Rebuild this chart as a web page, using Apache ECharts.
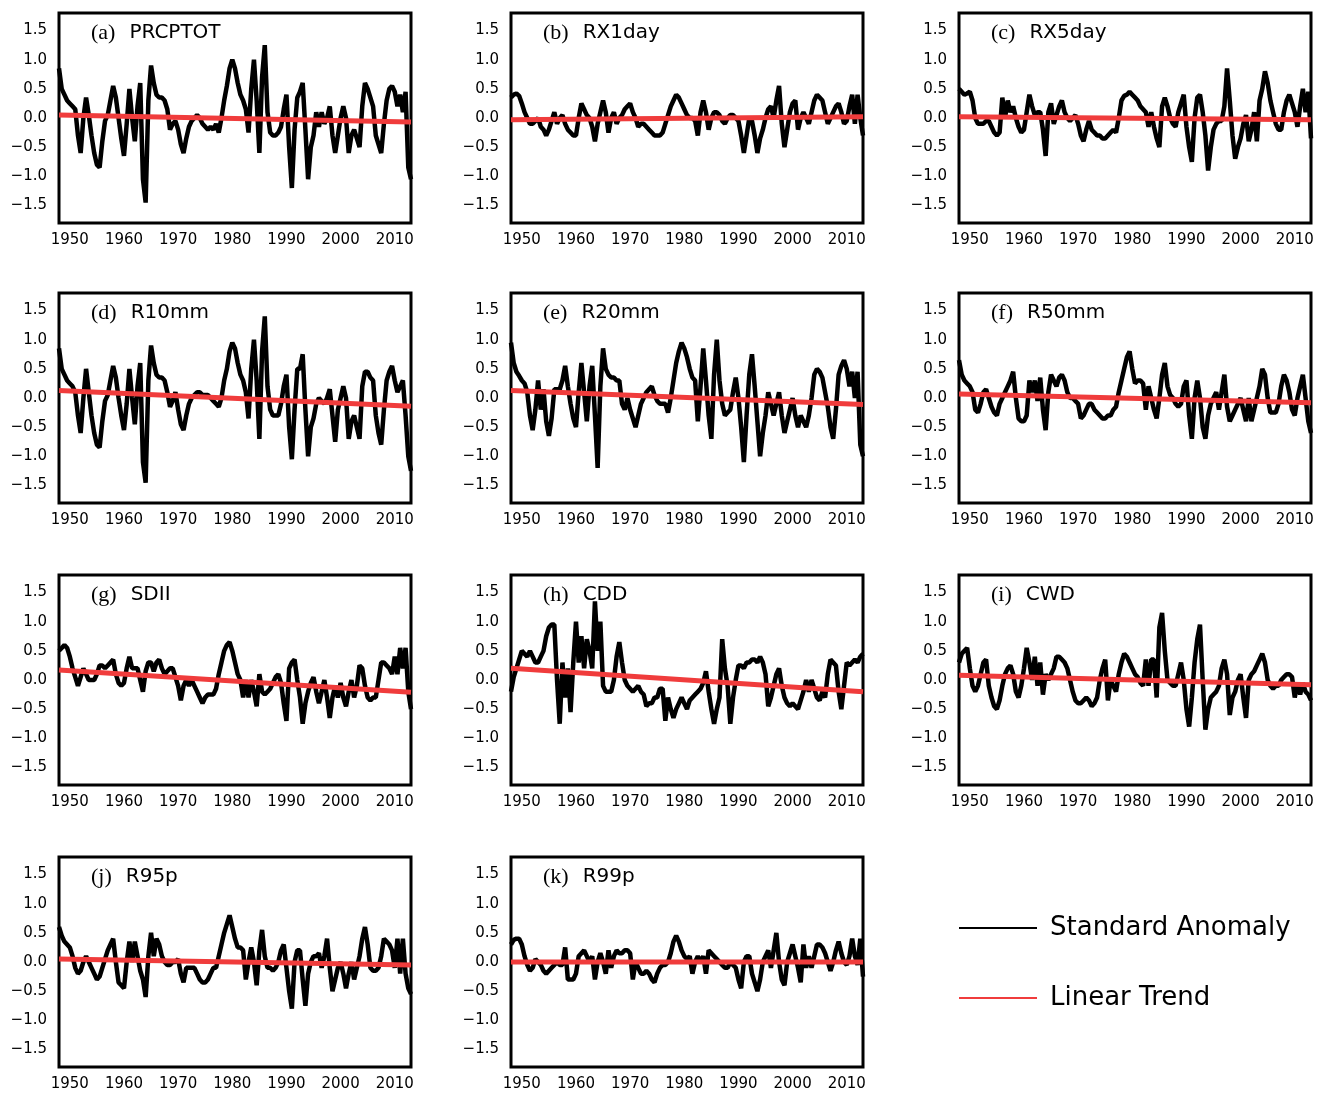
<!DOCTYPE html>
<html>
<head>
<meta charset="utf-8">
<title>Standard anomalies of precipitation indices</title>
<script src="https://cdn.jsdelivr.net/npm/echarts@6/dist/echarts.min.js"></script>
<style>
  html, body { margin: 0; background: #fff; }
  #chart { width: 1336px; height: 1102px; }
</style>
</head>
<body>
<div id="chart"></div>
<script>
// half-year steps, 1948.0 .. 2013.0
const firstYear = 1948;
const lastYear = 2013;
const years = Array.from({ length: 131 }, (_, i) => firstYear + i * 0.5);

const panelTags = ['(a)', '(b)', '(c)', '(d)', '(e)', '(f)', '(g)', '(h)', '(i)', '(j)', '(k)'];
const panelNames = ['PRCPTOT', 'RX1day', 'RX5day', 'R10mm', 'R20mm', 'R50mm', 'SDII', 'CDD', 'CWD', 'R95p', 'R99p'];

const prcptot = [
  0.85, 0.5, 0.4, 0.3, 0.25, 0.2, 0.15, -0.3, -0.6, 0.0,
  0.35, 0.05, -0.3, -0.6, -0.8, -0.85, -0.4, -0.05, 0.05, 0.3,
  0.55, 0.35, 0.0, -0.35, -0.65, -0.1, 0.5, 0.0, -0.4, 0.2,
  0.6, -1.05, -1.45, 0.3, 0.9, 0.6, 0.4, 0.35, 0.35, 0.3,
  0.15, -0.2, -0.1, -0.05, -0.2, -0.45, -0.6, -0.35, -0.15, -0.05,
  0.0, 0.05, 0.0, -0.1, -0.15, -0.2, -0.15, -0.2, -0.1, -0.25,
  0.0, 0.3, 0.55, 0.85, 1.0, 0.85, 0.6, 0.4, 0.3, 0.15,
  -0.25, 0.5, 1.0, 0.3, -0.6, 0.7, 1.25, 0.1, -0.25, -0.3,
  -0.3, -0.25, -0.15, 0.15, 0.4, -0.5, -1.2, -0.2, 0.35, 0.45,
  0.6, -0.2, -1.05, -0.5, -0.3, 0.1, -0.15, 0.1, -0.1, 0.0,
  0.2, -0.3, -0.6, -0.3, 0.0, 0.2, 0.0, -0.6, -0.3, -0.2,
  -0.35, -0.5, 0.2, 0.6, 0.5, 0.35, 0.2, -0.3, -0.45, -0.6,
  -0.1, 0.3, 0.5, 0.55, 0.45, 0.2, 0.4, 0.1, 0.45, -0.85,
  -1.05
];
const rx1day = [
  0.35, 0.4, 0.42, 0.38, 0.25, 0.1, 0.0, -0.1, -0.1, -0.05,
  0.0, -0.15, -0.2, -0.3, -0.2, -0.05, 0.1, -0.1, 0.0, 0.05,
  -0.1, -0.2, -0.25, -0.3, -0.3, 0.0, 0.25, 0.15, 0.05, 0.0,
  -0.15, -0.4, -0.1, 0.1, 0.3, 0.1, -0.25, 0.0, 0.1, -0.1,
  0.0, 0.05, 0.15, 0.2, 0.25, 0.1, 0.0, -0.15, -0.1, -0.1,
  -0.15, -0.2, -0.25, -0.3, -0.3, -0.3, -0.25, -0.1, 0.05, 0.2,
  0.3, 0.4, 0.35, 0.25, 0.15, 0.05, 0.0, 0.0, -0.05, -0.3,
  0.1, 0.3, 0.1, -0.2, 0.0, 0.1, 0.1, 0.05, -0.05, -0.1,
  0.0, 0.05, 0.05, 0.0, -0.05, -0.3, -0.6, -0.3, 0.0, -0.05,
  -0.3, -0.6, -0.35, -0.2, 0.0, 0.15, 0.2, 0.0, 0.3, 0.55,
  -0.1, -0.5, -0.2, 0.1, 0.25, 0.3, -0.2, 0.0, 0.1, 0.0,
  -0.1, 0.1, 0.3, 0.4, 0.35, 0.3, 0.1, -0.1, 0.0, 0.1,
  0.2, 0.25, 0.1, -0.1, -0.05, 0.2, 0.4, -0.1, 0.4, 0.0,
  -0.3
];
const rx5day = [
  0.5, 0.45, 0.4, 0.42, 0.45, 0.3, 0.0, -0.1, -0.1, -0.1,
  -0.05, -0.05, -0.15, -0.25, -0.3, -0.25, 0.35, 0.0, 0.3, 0.1,
  0.2, 0.0, -0.15, -0.25, -0.2, 0.1, 0.4, 0.2, 0.05, 0.1,
  0.1, -0.2, -0.65, 0.1, 0.25, -0.1, 0.05, 0.2, 0.3, 0.1,
  0.0, -0.05, 0.0, 0.05, -0.1, -0.3, -0.4, -0.2, -0.05, -0.2,
  -0.25, -0.3, -0.3, -0.35, -0.35, -0.3, -0.25, -0.2, -0.25, 0.0,
  0.3, 0.38, 0.4, 0.45, 0.4, 0.35, 0.3, 0.2, 0.15, 0.1,
  -0.15, 0.1, -0.15, -0.35, -0.5, 0.2, 0.35, 0.2, 0.0, -0.1,
  -0.15, 0.1, 0.25, 0.4, -0.15, -0.5, -0.75, 0.0, 0.35, 0.4,
  0.1, -0.3, -0.9, -0.5, -0.2, -0.1, -0.05, -0.05, 0.2, 0.85,
  0.3, -0.3, -0.7, -0.5, -0.35, -0.1, 0.05, -0.4, -0.2, 0.1,
  -0.4, 0.3, 0.5, 0.8, 0.6, 0.3, 0.1, -0.1, -0.2, -0.2,
  0.1, 0.3, 0.4, 0.25, 0.1, -0.15, 0.2, 0.5, 0.1, 0.45,
  -0.35
];
const r10mm = [
  0.85, 0.5, 0.4, 0.3, 0.25, 0.2, 0.1, -0.3, -0.6, 0.0,
  0.5, 0.1, -0.3, -0.6, -0.8, -0.85, -0.4, -0.05, 0.05, 0.3,
  0.55, 0.35, 0.0, -0.3, -0.55, -0.1, 0.5, 0.0, -0.45, 0.2,
  0.6, -1.1, -1.45, 0.3, 0.9, 0.6, 0.4, 0.35, 0.35, 0.3,
  0.1, -0.15, -0.05, 0.1, -0.2, -0.45, -0.55, -0.3, -0.1, 0.0,
  0.05, 0.1, 0.1, 0.05, 0.05, 0.05, 0.0, -0.05, -0.1, -0.15,
  0.0, 0.3, 0.5, 0.8, 0.95, 0.85, 0.6, 0.4, 0.3, 0.1,
  -0.35, 0.5, 1.0, 0.3, -0.7, 0.8, 1.4, 0.2, -0.2, -0.3,
  -0.3, -0.3, -0.1, 0.2, 0.4, -0.5, -1.05, -0.2, 0.5, 0.5,
  0.75, -0.2, -1.0, -0.5, -0.35, -0.1, 0.0, -0.05, -0.1, 0.0,
  0.15, -0.3, -0.75, -0.2, 0.0, 0.2, 0.0, -0.7, -0.4, -0.3,
  -0.5, -0.7, 0.2, 0.45, 0.45, 0.35, 0.3, -0.3, -0.6, -0.8,
  -0.2, 0.3, 0.45, 0.55, 0.3, 0.1, 0.2, 0.3, -0.3, -1.0,
  -1.25
];
const r20mm = [
  0.95, 0.6, 0.45, 0.38, 0.3, 0.25, 0.1, -0.3, -0.55, -0.2,
  0.3, -0.2, 0.15, -0.4, -0.65, -0.35, 0.15, 0.15, 0.15, 0.3,
  0.55, 0.2, -0.1, -0.35, -0.5, 0.1, 0.6, 0.1, -0.4, 0.2,
  0.55, -0.3, -1.2, 0.2, 0.85, 0.5, 0.4, 0.35, 0.35, 0.3,
  0.3, -0.1, -0.2, 0.0, -0.2, -0.35, -0.5, -0.3, -0.1, 0.0,
  0.1, 0.15, 0.2, 0.05, -0.05, -0.1, -0.1, -0.1, -0.25, 0.0,
  0.3, 0.6, 0.8, 0.95, 0.85, 0.7, 0.5, 0.35, 0.3, -0.4,
  0.2, 0.85, 0.3, -0.3, -0.7, 0.4, 1.0, 0.3, -0.1, -0.3,
  -0.25, -0.2, 0.1, 0.35, 0.0, -0.5, -1.1, -0.3, 0.4, 0.75,
  0.2, -0.4, -1.0, -0.6, -0.3, 0.1, -0.1, -0.3, -0.1, 0.1,
  -0.3, -0.6, -0.4, -0.2, 0.0, -0.3, -0.5, -0.3, -0.4, -0.5,
  -0.3, 0.0, 0.4, 0.5, 0.45, 0.35, 0.1, -0.15, -0.5, -0.7,
  -0.2, 0.4, 0.55, 0.65, 0.5, 0.2, 0.45, 0.0, 0.45, -0.8,
  -1.0
];
const r50mm = [
  0.65, 0.4, 0.3, 0.25, 0.2, 0.1, -0.2, -0.25, -0.1, 0.1,
  0.15, 0.0, -0.15, -0.25, -0.3, -0.1, 0.0, 0.1, 0.2, 0.3,
  0.45, 0.0, -0.35, -0.4, -0.4, -0.3, 0.3, 0.1, 0.3, -0.05,
  0.35, -0.2, -0.55, 0.1, 0.4, 0.3, 0.2, 0.35, 0.4, 0.3,
  0.1, 0.0, 0.0, -0.05, -0.1, -0.35, -0.3, -0.2, -0.1, -0.1,
  -0.2, -0.25, -0.3, -0.35, -0.35, -0.3, -0.3, -0.2, -0.15, 0.1,
  0.3, 0.5, 0.7, 0.8, 0.5, 0.25, 0.3, 0.3, 0.25, -0.2,
  0.2, 0.0, -0.2, -0.35, 0.0, 0.4, 0.6, 0.2, 0.05, 0.0,
  -0.1, -0.15, -0.1, 0.2, 0.3, -0.3, -0.7, 0.0, 0.3, 0.0,
  -0.5, -0.7, -0.3, -0.1, 0.0, 0.1, -0.2, 0.1, 0.4, -0.15,
  -0.4, -0.3, -0.2, -0.1, 0.0, -0.2, -0.4, 0.0, -0.4, -0.2,
  0.0, 0.2, 0.5, 0.4, 0.0, -0.25, -0.25, -0.25, -0.1, 0.2,
  0.4, 0.3, 0.1, -0.2, -0.3, 0.0, 0.2, 0.4, 0.0, -0.4,
  -0.6
];
const sdii = [
  0.5, 0.55, 0.6, 0.55, 0.4, 0.2, 0.05, -0.1, 0.05, 0.2,
  0.1, 0.0, 0.0, 0.0, 0.1, 0.25, 0.25, 0.2, 0.25, 0.3,
  0.35, 0.1, -0.05, -0.1, -0.05, 0.2, 0.4, 0.2, 0.2, 0.2,
  0.0, -0.2, 0.15, 0.3, 0.3, 0.15, 0.3, 0.35, 0.2, 0.1,
  0.15, 0.2, 0.2, 0.05, -0.1, -0.35, -0.1, 0.0, -0.1, 0.0,
  -0.1, -0.2, -0.3, -0.4, -0.3, -0.25, -0.25, -0.25, -0.15, 0.1,
  0.3, 0.5, 0.6, 0.65, 0.5, 0.3, 0.1, 0.0, -0.3, 0.0,
  -0.3, 0.0, -0.2, -0.45, 0.1, -0.2, -0.25, -0.2, -0.15, -0.05,
  0.05, 0.1, -0.05, -0.4, -0.7, 0.2, 0.3, 0.35, 0.0, -0.3,
  -0.75, -0.4, -0.2, -0.05, 0.05, -0.2, -0.4, -0.2, 0.0, -0.3,
  -0.65, -0.3, -0.1, -0.3, -0.05, -0.3, -0.45, -0.2, 0.0, -0.3,
  -0.1, 0.25, 0.2, -0.1, -0.3, -0.35, -0.3, -0.3, 0.0, 0.3,
  0.3, 0.25, 0.2, 0.1, 0.4, 0.1, 0.55, 0.2, 0.55, -0.2,
  -0.5
];
const cdd = [
  -0.2, 0.05, 0.2, 0.35, 0.5, 0.45, 0.4, 0.5, 0.4, 0.3,
  0.3, 0.4, 0.5, 0.75, 0.9, 0.95, 0.95, 0.0, -0.75, 0.3,
  -0.3, 0.2, -0.55, 0.3, 1.0, 0.3, 0.75, 0.2, 0.7, 0.5,
  0.2, 1.35, 0.5, 1.0, -0.1, -0.2, -0.2, -0.2, 0.0, 0.4,
  0.65, 0.3, 0.0, -0.1, -0.15, -0.2, -0.15, -0.1, -0.2, -0.25,
  -0.45, -0.4, -0.4, -0.3, -0.3, -0.15, -0.15, -0.7, -0.3, -0.5,
  -0.65, -0.5, -0.4, -0.3, -0.4, -0.5, -0.35, -0.3, -0.25, -0.2,
  -0.15, -0.05, 0.15, -0.2, -0.5, -0.75, -0.5, -0.3, 0.7, 0.2,
  -0.1, -0.75, -0.3, 0.0, 0.25, 0.25, 0.2, 0.3, 0.3, 0.35,
  0.35, 0.3, 0.4, 0.3, 0.1, -0.45, -0.3, -0.1, 0.1, 0.2,
  -0.1, -0.3, -0.4, -0.45, -0.4, -0.45, -0.5, -0.35, -0.2, 0.0,
  -0.2, 0.0, -0.15, -0.3, -0.35, -0.2, -0.3, 0.1, 0.35, 0.3,
  0.25, -0.2, -0.5, -0.1, 0.3, 0.25, 0.3, 0.35, 0.3, 0.4,
  0.45
];
const cwd = [
  0.3, 0.45, 0.5, 0.55, 0.2, -0.1, -0.2, -0.1, 0.1, 0.3,
  0.35, -0.1, -0.3, -0.45, -0.5, -0.35, -0.1, 0.1, 0.2, 0.25,
  0.1, -0.2, -0.3, -0.1, 0.2, 0.55, 0.3, 0.0, 0.4, -0.1,
  0.3, -0.25, 0.1, 0.0, 0.1, 0.2, 0.4, 0.4, 0.35, 0.3,
  0.2, 0.0, -0.2, -0.35, -0.4, -0.4, -0.35, -0.3, -0.35, -0.45,
  -0.4, -0.3, 0.0, 0.2, 0.35, -0.35, 0.0, -0.1, -0.2, 0.1,
  0.3, 0.45, 0.4, 0.3, 0.2, 0.1, 0.05, -0.05, -0.1, 0.35,
  -0.1, 0.35, 0.35, -0.3, 0.9, 1.15, 0.5, 0.0, -0.05, -0.1,
  -0.1, 0.1, 0.3, 0.0, -0.5, -0.8, -0.3, 0.3, 0.7, 0.95,
  0.0, -0.85, -0.5, -0.3, -0.25, -0.2, -0.1, 0.2, 0.35, 0.1,
  -0.6, -0.3, -0.2, 0.0, 0.1, -0.3, -0.65, 0.0, 0.1, 0.15,
  0.25, 0.35, 0.45, 0.3, 0.0, -0.1, -0.15, -0.1, -0.1, 0.0,
  0.05, 0.1, 0.1, 0.05, -0.3, -0.05, -0.25, -0.05, -0.2, -0.25,
  -0.35
];
const r95p = [
  0.6, 0.45, 0.35, 0.3, 0.25, 0.1, -0.1, -0.2, -0.15, 0.0,
  0.1, 0.0, -0.1, -0.2, -0.3, -0.25, -0.1, 0.05, 0.2, 0.3,
  0.4, 0.0, -0.35, -0.4, -0.45, 0.0, 0.35, 0.0, 0.35, 0.1,
  -0.15, -0.3, -0.6, 0.1, 0.5, 0.1, 0.4, 0.3, 0.1, 0.0,
  -0.05, -0.05, 0.0, 0.0, 0.05, -0.2, -0.35, -0.1, -0.1, -0.1,
  -0.1, -0.2, -0.3, -0.35, -0.35, -0.3, -0.2, -0.1, -0.1, 0.1,
  0.3, 0.5, 0.65, 0.8, 0.6, 0.4, 0.25, 0.25, 0.2, -0.3,
  0.0, 0.25, 0.0, -0.4, 0.2, 0.55, 0.1, -0.1, -0.1, -0.15,
  -0.1, 0.0, 0.2, 0.3, -0.1, -0.5, -0.8, 0.0, 0.2, 0.2,
  -0.3, -0.75, -0.2, 0.0, 0.1, 0.1, 0.15, -0.1, 0.1, 0.4,
  -0.1, -0.5, -0.3, -0.1, 0.0, -0.2, -0.45, -0.2, 0.0, -0.3,
  -0.1, 0.1, 0.4, 0.6, 0.3, -0.1, -0.15, -0.15, -0.1, 0.1,
  0.4, 0.35, 0.3, 0.2, -0.1, 0.4, -0.2, 0.4, -0.2, -0.45,
  -0.55
];
const r99p = [
  0.3, 0.38, 0.4, 0.4, 0.3, 0.1, -0.05, -0.15, -0.1, 0.05,
  0.0, -0.05, -0.15, -0.2, -0.15, -0.1, -0.05, 0.0, -0.05, -0.05,
  0.25, -0.3, -0.3, -0.3, -0.2, 0.1, 0.15, 0.2, 0.1, 0.0,
  0.1, -0.3, 0.0, 0.15, 0.0, -0.2, 0.2, -0.1, 0.1, 0.2,
  0.15, 0.15, 0.2, 0.2, 0.15, -0.3, 0.0, -0.1, -0.2, -0.2,
  -0.15, -0.2, -0.3, -0.35, -0.2, -0.1, -0.05, -0.05, 0.0, 0.15,
  0.35, 0.45, 0.35, 0.2, 0.1, 0.05, 0.1, -0.2, 0.0, 0.1,
  0.0, 0.1, -0.2, 0.2, 0.15, 0.1, 0.05, 0.0, -0.05, -0.1,
  -0.1, 0.0, -0.05, -0.1, -0.3, -0.45, 0.0, 0.1, 0.1, -0.2,
  -0.35, -0.5, -0.3, 0.0, 0.1, 0.2, -0.1, 0.2, 0.5, 0.0,
  -0.3, -0.4, 0.0, 0.15, 0.3, 0.1, -0.1, -0.35, 0.3, -0.1,
  0.1, -0.1, 0.1, 0.3, 0.3, 0.25, 0.15, 0.0, -0.15, 0.0,
  0.2, 0.35, 0.15, 0.0, -0.05, 0.1, 0.4, 0.1, -0.05, 0.4,
  -0.25
];

// linear trend value at 1948 and at 2013, per panel
const trendStart = [0.05, -0.03, 0.02, 0.13, 0.13, 0.07, 0.17, 0.2, 0.08, 0.05, 0.0];
const trendEnd = [-0.07, 0.02, -0.03, -0.14, -0.11, -0.08, -0.21, -0.2, -0.08, -0.05, 0.0];

const yearTicks = [1950, 1960, 1970, 1980, 1990, 2000, 2010];
const valueTicks = [-1.5, -1.0, -0.5, 0.0, 0.5, 1.0, 1.5];

const anomalies = [prcptot, rx1day, rx5day, r10mm, r20mm, r50mm, sdii, cdd, cwd, r95p, r99p];

const colLeft = [59, 511, 959];
const rowTop = [13, 293, 575, 857];
const plotW = 352;
const plotH = 210;
const sans = 'DejaVu Sans, Liberation Sans, sans-serif';
const red = '#f03c3c';

const grids = [], xAxes = [], yAxes = [], series = [], titles = [];

anomalies.forEach((vals, i) => {
  if (vals.length !== years.length) console.warn(panelNames[i], vals.length);
  const left = colLeft[i % 3];
  const top = rowTop[Math.floor(i / 3)];
  grids.push({ left, top, width: plotW, height: plotH, show: true, borderColor: '#000', borderWidth: 3, backgroundColor: '#fff' });
  xAxes.push({
    type: 'value', gridIndex: i, min: firstYear, max: lastYear,
    axisLine: { show: false }, axisTick: { show: false }, splitLine: { show: false },
    axisLabel: {
      customValues: yearTicks, color: '#000', fontSize: 15, fontFamily: sans, margin: 10,
      formatter: v => String(v)
    }
  });
  yAxes.push({
    type: 'value', gridIndex: i, min: -1.8, max: 1.8,
    axisLine: { show: false }, axisTick: { show: false }, splitLine: { show: false },
    axisLabel: {
      customValues: valueTicks, color: '#000', fontSize: 15, fontFamily: sans, margin: 12,
      formatter: v => v.toFixed(1).replace('-', '\u2212')
    }
  });
  series.push({
    type: 'line', name: 'Standard Anomaly', xAxisIndex: i, yAxisIndex: i,
    data: years.map((y, k) => [y, vals[k]]),
    showSymbol: false, z: 2,
    lineStyle: { color: '#000', width: 4.5 }, itemStyle: { color: '#000' }
  });
  series.push({
    type: 'line', name: 'Linear Trend', xAxisIndex: i, yAxisIndex: i,
    data: [[firstYear, trendStart[i]], [lastYear, trendEnd[i]]],
    showSymbol: false, z: 3,
    lineStyle: { color: red, width: 5 }, itemStyle: { color: red }
  });
  titles.push({
    left: left + 32, top: top + 9, padding: 0,
    text: '{t|' + panelTags[i] + '}{n|' + panelNames[i] + '}',
    textStyle: {
      fontWeight: 'normal',
      rich: {
        t: { fontFamily: 'Liberation Serif, serif', fontSize: 22, fontWeight: 'normal', color: '#000', padding: [0, 14, 0, 0] },
        n: { fontFamily: sans, fontSize: 20, fontWeight: 'normal', color: '#000' }
      }
    }
  });
});

const chart = echarts.init(document.getElementById('chart'), null, { renderer: 'canvas' });
chart.setOption({
  animation: false,
  backgroundColor: '#fff',
  title: titles,
  grid: grids,
  xAxis: xAxes,
  yAxis: yAxes,
  series,
  legend: {
    data: ['Standard Anomaly', 'Linear Trend'],
    orient: 'vertical', left: 959, top: 913, padding: 0,
    icon: 'rect', itemWidth: 78, itemHeight: 2, itemGap: 40,
    textStyle: { fontFamily: sans, fontSize: 26, color: '#000', lineHeight: 30, padding: [0, 0, 0, 8] }
  }
});
</script>
</body>
</html>
